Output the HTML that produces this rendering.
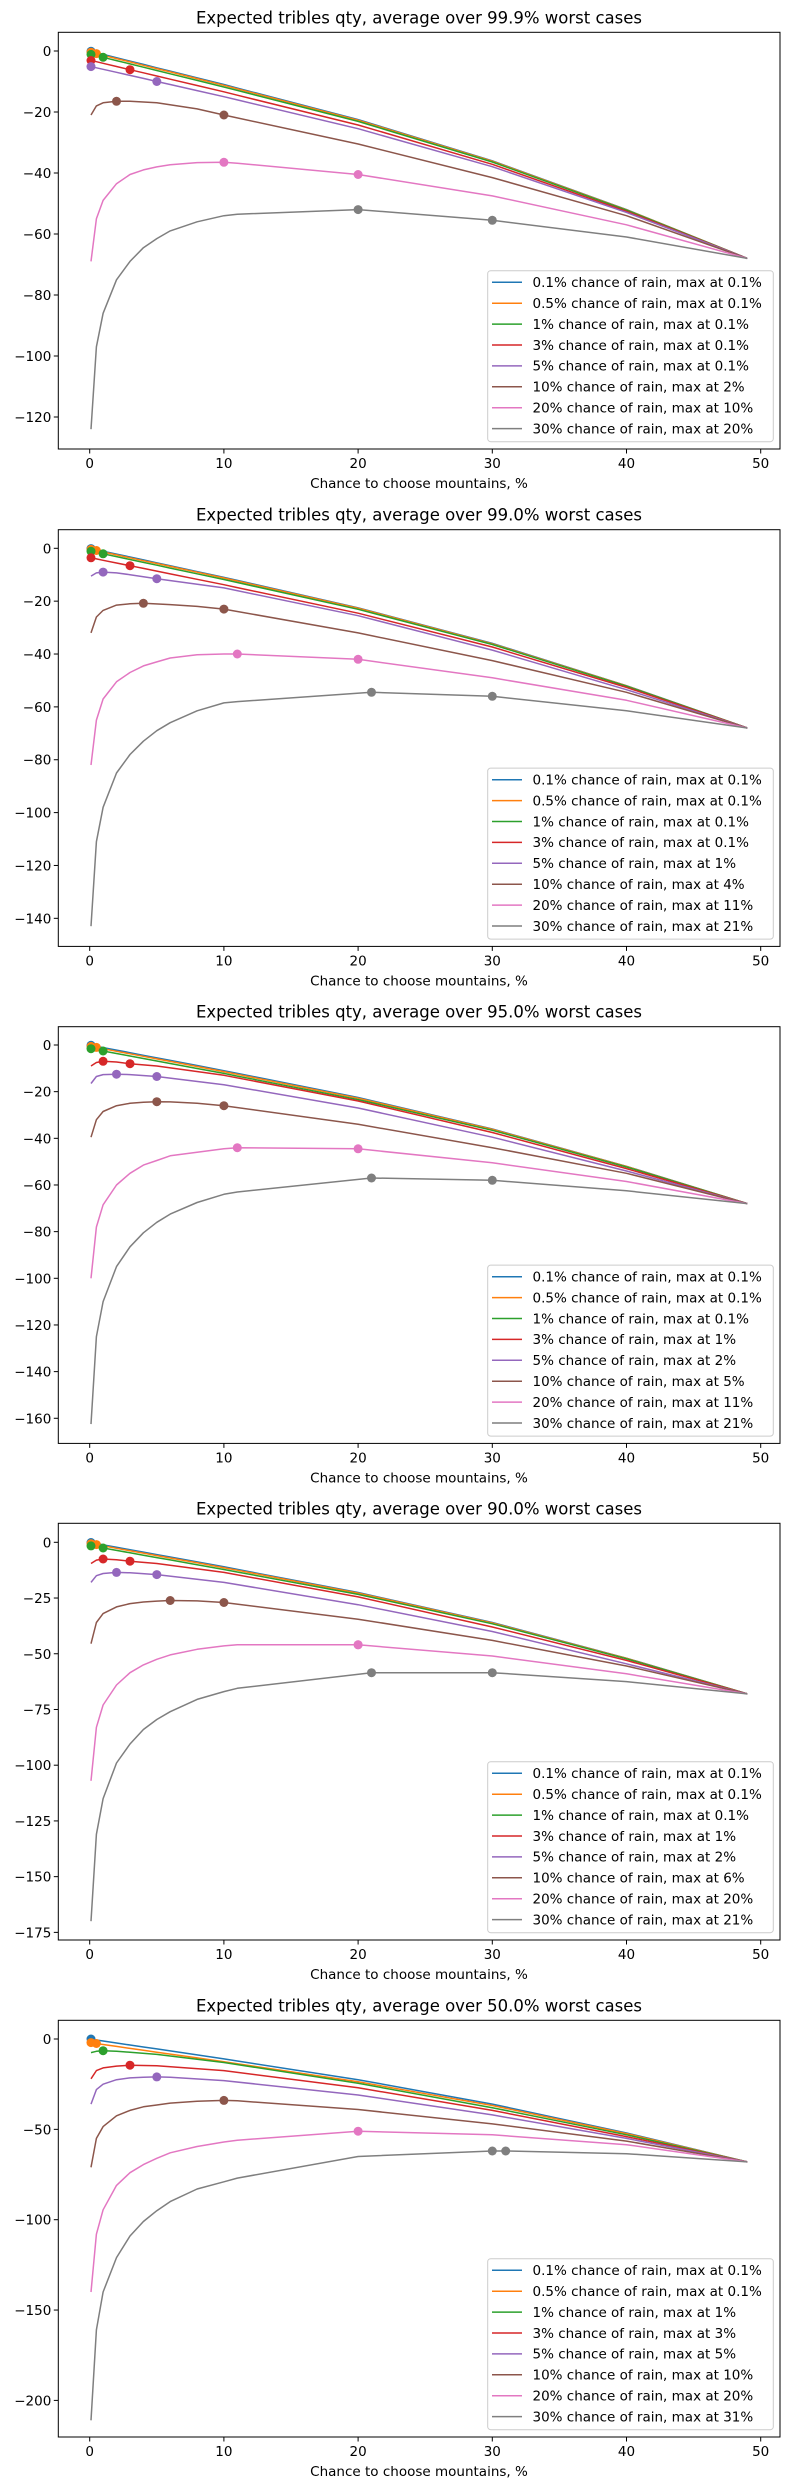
<!DOCTYPE html>
<html><head><meta charset="utf-8"><style>
body{margin:0;background:#fff;}
svg{display:block;font-family:"DejaVu Sans","Liberation Sans",sans-serif;}
</style></head><body>
<svg id="s" width="790" height="2490" xmlns="http://www.w3.org/2000/svg"></svg>
<script>
const C=['#1f77b4','#ff7f0e','#2ca02c','#d62728','#9467bd','#8c564b','#e377c2','#7f7f7f'];
const XS=[0.1,0.5,1,2,3,4,5,6,8,10,11,20,30,40,49];
function base(x){const p=[[0,0],[10,-11],[20,-22.5],[30,-36],[40,-52],[49,-68]];for(let i=0;i<p.length-1;i++){if(x<=p[i+1][0]){const t=(x-p[i][0])/(p[i+1][0]-p[i][0]);return p[i][1]+t*(p[i+1][1]-p[i][1]);}}return -68;}
function lin(off){return XS.map(x=>[x,base(x)+off*(1-x/49)]);}
function curve(pairs,tail){// pairs: [x,y] early points; tail blends to base
 return pairs;}
const P=[
{T:32.3,y0:51,s:3.05,ticks:[0,-20,-40,-60,-80,-100,-120],title:'99.9',
 leg:['0.1%','0.1%','0.1%','0.1%','0.1%','2%','10%','20%'],
 L:[lin(0),lin(-0.3),lin(-1),lin(-3),lin(-5),
 [[0.1,-21],[0.5,-18],[1,-17],[2,-16.5],[3,-16.5],[5,-17],[8,-19],[10,-21],[20,-30.5],[30,-41.5],[40,-54],[49,-68]],
 [[0.1,-69],[0.5,-55],[1,-49],[2,-43.5],[3,-40.5],[4,-39],[5,-38],[6,-37.3],[8,-36.6],[10,-36.5],[11,-36.8],[20,-40.5],[30,-47.5],[40,-57],[49,-68]],
 [[0.1,-124],[0.5,-97],[1,-86],[2,-75],[3,-69],[4,-64.5],[5,-61.5],[6,-59],[8,-56],[10,-54],[11,-53.5],[20,-52],[30,-55.5],[40,-61],[49,-68]]],
 D:[[0.1],[0.1,0.5],[0.1,1],[0.1,3],[0.1,5],[2,10],[10,20],[20,30]]},
{T:529.7,y0:548.3,s:2.643,ticks:[0,-20,-40,-60,-80,-100,-120,-140],title:'99.0',
 leg:['0.1%','0.1%','0.1%','0.1%','1%','4%','11%','21%'],
 L:[lin(0),lin(-0.3),lin(-1),lin(-3.5),
 [[0.1,-10.5],[0.5,-9.3],[1,-9],[2,-9.3],[3,-10],[5,-11.5],[10,-15],[20,-25.5],[30,-38.5],[40,-53.5],[49,-68]],
 [[0.1,-32],[0.5,-26],[1,-23.5],[2,-21.5],[3,-21],[4,-20.8],[6,-21.3],[8,-22],[10,-23],[20,-32],[30,-42.5],[40,-54.5],[49,-68]],
 [[0.1,-82],[0.5,-65],[1,-57],[2,-50.5],[3,-47],[4,-44.5],[5,-43],[6,-41.5],[8,-40.3],[10,-40],[11,-40],[20,-42],[30,-49],[40,-57.5],[49,-68]],
 [[0.1,-143],[0.5,-111],[1,-98],[2,-85],[3,-78],[4,-73],[5,-69],[6,-66],[8,-61.5],[10,-58.5],[11,-58],[21,-54.5],[30,-56],[40,-61.5],[49,-68]]],
 D:[[0.1],[0.1,0.5],[0.1,1],[0.1,3],[1,5],[4,10],[11,20],[21,30]]},
{T:1026.7,y0:1045,s:2.333,ticks:[0,-20,-40,-60,-80,-100,-120,-140,-160],title:'95.0',
 leg:['0.1%','0.1%','0.1%','1%','2%','5%','11%','21%'],
 L:[lin(0),lin(-0.5),lin(-1.5),
 [[0.1,-9],[0.5,-7.5],[1,-7],[2,-7.3],[3,-8],[5,-9],[10,-13],[20,-24],[30,-37.5],[40,-53],[49,-68]],
 [[0.1,-16.5],[0.5,-13.5],[1,-12.7],[2,-12.5],[3,-12.7],[5,-13.5],[10,-17],[20,-27],[30,-39.5],[40,-54],[49,-68]],
 [[0.1,-39.5],[0.5,-32],[1,-28.5],[2,-26],[3,-25],[4,-24.5],[5,-24.3],[6,-24.4],[8,-25],[10,-26],[20,-34],[30,-44],[40,-55],[49,-68]],
 [[0.1,-100],[0.5,-78],[1,-68.5],[2,-60],[3,-55],[4,-51.5],[5,-49.5],[6,-47.5],[8,-46],[10,-44.5],[11,-44],[20,-44.5],[30,-50.5],[40,-58.5],[49,-68]],
 [[0.1,-162.5],[0.5,-125],[1,-110],[2,-95],[3,-86.5],[4,-80.5],[5,-76],[6,-72.5],[8,-67.5],[10,-64],[11,-63],[21,-57],[30,-58],[40,-62.5],[49,-68]]],
 D:[[0.1],[0.1,0.5],[0.1,1],[1,3],[2,5],[5,10],[11,20],[21,30]]},
{T:1523.3,y0:1542.3,s:2.229,ticks:[0,-25,-50,-75,-100,-125,-150,-175],title:'90.0',
 leg:['0.1%','0.1%','0.1%','1%','2%','6%','20%','21%'],
 L:[lin(0),lin(-0.5),lin(-1.5),
 [[0.1,-9.5],[0.5,-8],[1,-7.5],[2,-7.8],[3,-8.5],[5,-9.5],[10,-13.5],[20,-24.5],[30,-38],[40,-53],[49,-68]],
 [[0.1,-18],[0.5,-15],[1,-14],[2,-13.5],[3,-13.7],[5,-14.5],[10,-18],[20,-28],[30,-40],[40,-54.5],[49,-68]],
 [[0.1,-45.5],[0.5,-36],[1,-32],[2,-29],[3,-27.5],[4,-26.8],[5,-26.4],[6,-26.1],[8,-26.3],[10,-27],[20,-34.5],[30,-44],[40,-55.5],[49,-68]],
 [[0.1,-107],[0.5,-83],[1,-73],[2,-64],[3,-58.5],[4,-55],[5,-52.5],[6,-50.5],[8,-48],[10,-46.5],[11,-46],[20,-46],[30,-51],[40,-59],[49,-68]],
 [[0.1,-170],[0.5,-131],[1,-115],[2,-99],[3,-90.5],[4,-84],[5,-79.5],[6,-76],[8,-70.5],[10,-67],[11,-65.5],[21,-58.5],[30,-58.5],[40,-62.5],[49,-68]]],
 D:[[0.1],[0.1,0.5],[0.1,1],[1,3],[2,5],[6,10],[20,20],[21,30]]},
{T:2020.3,y0:2039,s:1.807,ticks:[0,-50,-100,-150,-200],title:'50.0',
 leg:['0.1%','0.1%','1%','3%','5%','10%','20%','31%'],
 L:[lin(0),lin(-2),
 [[0.1,-7.5],[0.5,-6.8],[1,-6.5],[2,-6.8],[3,-7.3],[5,-8.5],[10,-13],[20,-24.5],[30,-38],[40,-53],[49,-68]],
 [[0.1,-22],[0.5,-17.5],[1,-16],[2,-15],[3,-14.5],[5,-14.8],[10,-17.5],[20,-27],[30,-39.5],[40,-54],[49,-68]],
 [[0.1,-36],[0.5,-28],[1,-25],[2,-22.5],[3,-21.5],[4,-21.2],[5,-21],[6,-21.2],[10,-23],[20,-31],[30,-42],[40,-55],[49,-68]],
 [[0.1,-71],[0.5,-55],[1,-48.5],[2,-42.5],[3,-39.5],[4,-37.5],[5,-36.5],[6,-35.5],[8,-34.5],[10,-34],[11,-34.2],[20,-39],[30,-47],[40,-56.5],[49,-68]],
 [[0.1,-140],[0.5,-108],[1,-94.5],[2,-81],[3,-74],[4,-69.5],[5,-66],[6,-63],[8,-59.5],[10,-57],[11,-56],[20,-51],[30,-53],[40,-58.5],[49,-68]],
 [[0.1,-211],[0.5,-161],[1,-140],[2,-121],[3,-109],[4,-101],[5,-95],[6,-90],[8,-83],[10,-79],[11,-77],[20,-65],[30,-62],[31,-62],[40,-63.5],[49,-68]]],
 D:[[0.1],[0.1,0.5],[0.1,1],[0.1,3],[0.1,5],[10],[20],[30,31]],
 Dy:{0:[[0.1,0]],1:[[0.1,-2],[0.5,-2.5]],2:[[1,-6.5]],3:[[3,-14.5]],4:[[5,-21]],5:[[10,-34]],6:[[20,-51]],7:[[30,-62],[31,-62]]}}
];
const names=['0.1%','0.5%','1%','3%','5%','10%','20%','30%'];
const XL=58.3,XR=780,H=416.7;
const X=x=>89.7+13.42*x;
function interp(pts,x){for(let i=0;i<pts.length-1;i++){if(x<=pts[i+1][0]+1e-9){const t=(x-pts[i][0])/(pts[i+1][0]-pts[i][0]);return pts[i][1]+t*(pts[i+1][1]-pts[i][1]);}}return pts[pts.length-1][1];}
let o='';
P.forEach(p=>{
 const Y=v=>p.y0-p.s*v, B=p.T+H;
 o+=`<text x="419" y="${p.T-9}" text-anchor="middle" font-size="16.5">Expected tribles qty, average over ${p.title}% worst cases</text>`;
 o+=`<clipPath id="c${p.T|0}"><rect x="${XL}" y="${p.T}" width="${XR-XL}" height="${H}"/></clipPath><g clip-path="url(#c${p.T|0})">`;
 p.L.forEach((pts,i)=>{o+=`<polyline fill="none" stroke="${C[i]}" stroke-width="1.5" stroke-linejoin="round" points="${pts.map(q=>X(q[0]).toFixed(1)+','+Y(q[1]).toFixed(1)).join(' ')}"/>`;});
 p.L.forEach((pts,i)=>{const ds=p.Dy?p.Dy[i]:p.D[i].map(x=>[x,interp(pts,x)]);ds.forEach(d=>{o+=`<circle cx="${X(d[0]).toFixed(1)}" cy="${Y(d[1]).toFixed(1)}" r="4.5" fill="${C[i]}"/>`;});});
 o+='</g>';
 o+=`<rect x="${XL}" y="${p.T}" width="${XR-XL}" height="${H}" fill="none" stroke="#000" stroke-width="1"/>`;
 [0,10,20,30,40,50].forEach(t=>{const x=X(t);o+=`<line x1="${x}" y1="${B}" x2="${x}" y2="${B+4.5}" stroke="#000"/><text x="${x}" y="${B+19}" text-anchor="middle" font-size="13.5">${t}</text>`;});
 p.ticks.forEach(t=>{const y=Y(t);o+=`<line x1="${XL-4.5}" y1="${y}" x2="${XL}" y2="${y}" stroke="#000"/><text x="${XL-7}" y="${y+5}" text-anchor="end" font-size="13.5">${t<0?'\u2212'+(-t):t}</text>`;});
 o+=`<text x="419" y="${B+39}" text-anchor="middle" font-size="13.5">Chance to choose mountains, %</text>`;
 const lb=B-7.3, lt=lb-171;
 o+=`<rect x="487.7" y="${lt}" width="285.6" height="171" rx="3" fill="#fff" fill-opacity="0.8" stroke="#ccc"/>`;
 for(let i=0;i<8;i++){const y=lt+11.6+i*20.9;o+=`<line x1="492" y1="${y}" x2="522" y2="${y}" stroke="${C[i]}" stroke-width="1.5"/><text x="532.5" y="${y+4.8}" font-size="13.5">${names[i]} chance of rain, max at ${p.leg[i]}</text>`;}
});
document.getElementById('s').innerHTML=o;
</script>
</body></html>
